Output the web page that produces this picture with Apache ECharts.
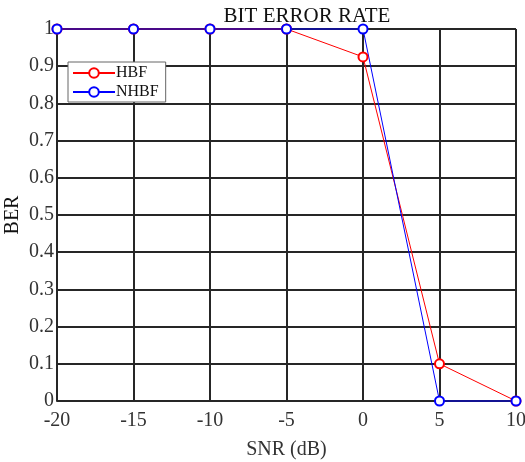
<!DOCTYPE html>
<html>
<head>
<meta charset="utf-8">
<style>
  html, body { margin: 0; padding: 0; background: #fff; }
  #chart { width: 525px; height: 462px; }
</style>
<script src="https://cdn.jsdelivr.net/npm/echarts@6/dist/echarts.min.js"></script>
</head>
<body>
<div id="chart"></div>
<script>
// SNR sweep (dB) and bit error rate for each beamforming scheme
const snrValues = [-20, -15, -10, -5, 0, 5, 10];
const berHBF = [1, 1, 1, 1, 0.925, 0.1, 0];
const berNHBF = [1, 1, 1, 1, 1, 0, 0];

const FONT = '"Liberation Serif", "Times New Roman", serif';
const INK = '#262626';

const chart = echarts.init(document.getElementById('chart'), null, { renderer: 'canvas' });

function pairs(xs, ys) { return xs.map((x, i) => [x, ys[i]]); }

chart.setOption({
  animation: false,
  backgroundColor: '#fff',
  title: {
    text: 'BIT ERROR RATE',
    left: 302, top: 1, textAlign: 'center',
    textStyle: { fontFamily: FONT, fontSize: 21, fontWeight: 'normal', color: '#111' }
  },
  grid: { left: 57, right: 9, top: 29, bottom: 61, outerBoundsMode: 'none', containLabel: false },
  legend: {
    orient: 'vertical',
    left: 68, top: 62,
    itemWidth: 42, itemHeight: 12, itemGap: 3,
    padding: [3, 7, 2, 4],
    borderColor: '#666', borderWidth: 1,
    backgroundColor: '#fff',
    textStyle: { fontFamily: FONT, fontSize: 16, color: '#111', padding: [0, 0, 0, -4] },
    data: ['HBF', 'NHBF']
  },
  xAxis: {
    type: 'value', min: -20, max: 10, interval: 5,
    name: 'SNR (dB)', nameLocation: 'middle', nameGap: 39, nameMoveOverlap: false,
    nameTextStyle: { fontFamily: FONT, fontSize: 20, color: '#333' },
    axisLine: { show: true, lineStyle: { color: INK, width: 2 } },
    axisTick: { show: false },
    axisLabel: { fontFamily: FONT, fontSize: 20, color: '#333', margin: 10 },
    splitLine: { show: true, lineStyle: { color: INK, width: 2 } }
  },
  yAxis: {
    type: 'value', min: 0, max: 1, interval: 0.1,
    name: 'BER', nameLocation: 'middle', nameGap: 34, nameMoveOverlap: false,
    nameTextStyle: { fontFamily: FONT, fontSize: 20, color: '#111' },
    axisLine: { show: true, lineStyle: { color: INK, width: 2 } },
    axisTick: { show: false },
    axisLabel: {
      fontFamily: FONT, fontSize: 20, color: '#333', margin: 3,
      formatter: v => (Math.round(v * 10) / 10).toString()
    },
    splitLine: { show: true, lineStyle: { color: INK, width: 2 } }
  },
  series: [
    {
      name: 'HBF', type: 'line',
      data: pairs(snrValues, berHBF),
      clip: false,
      symbol: 'emptyCircle', symbolSize: 9,
      lineStyle: { color: '#ff0000', width: 1 },
      itemStyle: { color: '#ff0000', borderColor: '#990000', borderWidth: 3 }
    },
    {
      name: 'NHBF', type: 'line',
      data: pairs(snrValues, berNHBF),
      clip: false,
      symbol: 'emptyCircle', symbolSize: 9,
      lineStyle: { color: '#0000ff', width: 1 },
      itemStyle: { color: '#0000ff', borderColor: '#000080', borderWidth: 3 }
    }
  ]
});
</script>
</body>
</html>
